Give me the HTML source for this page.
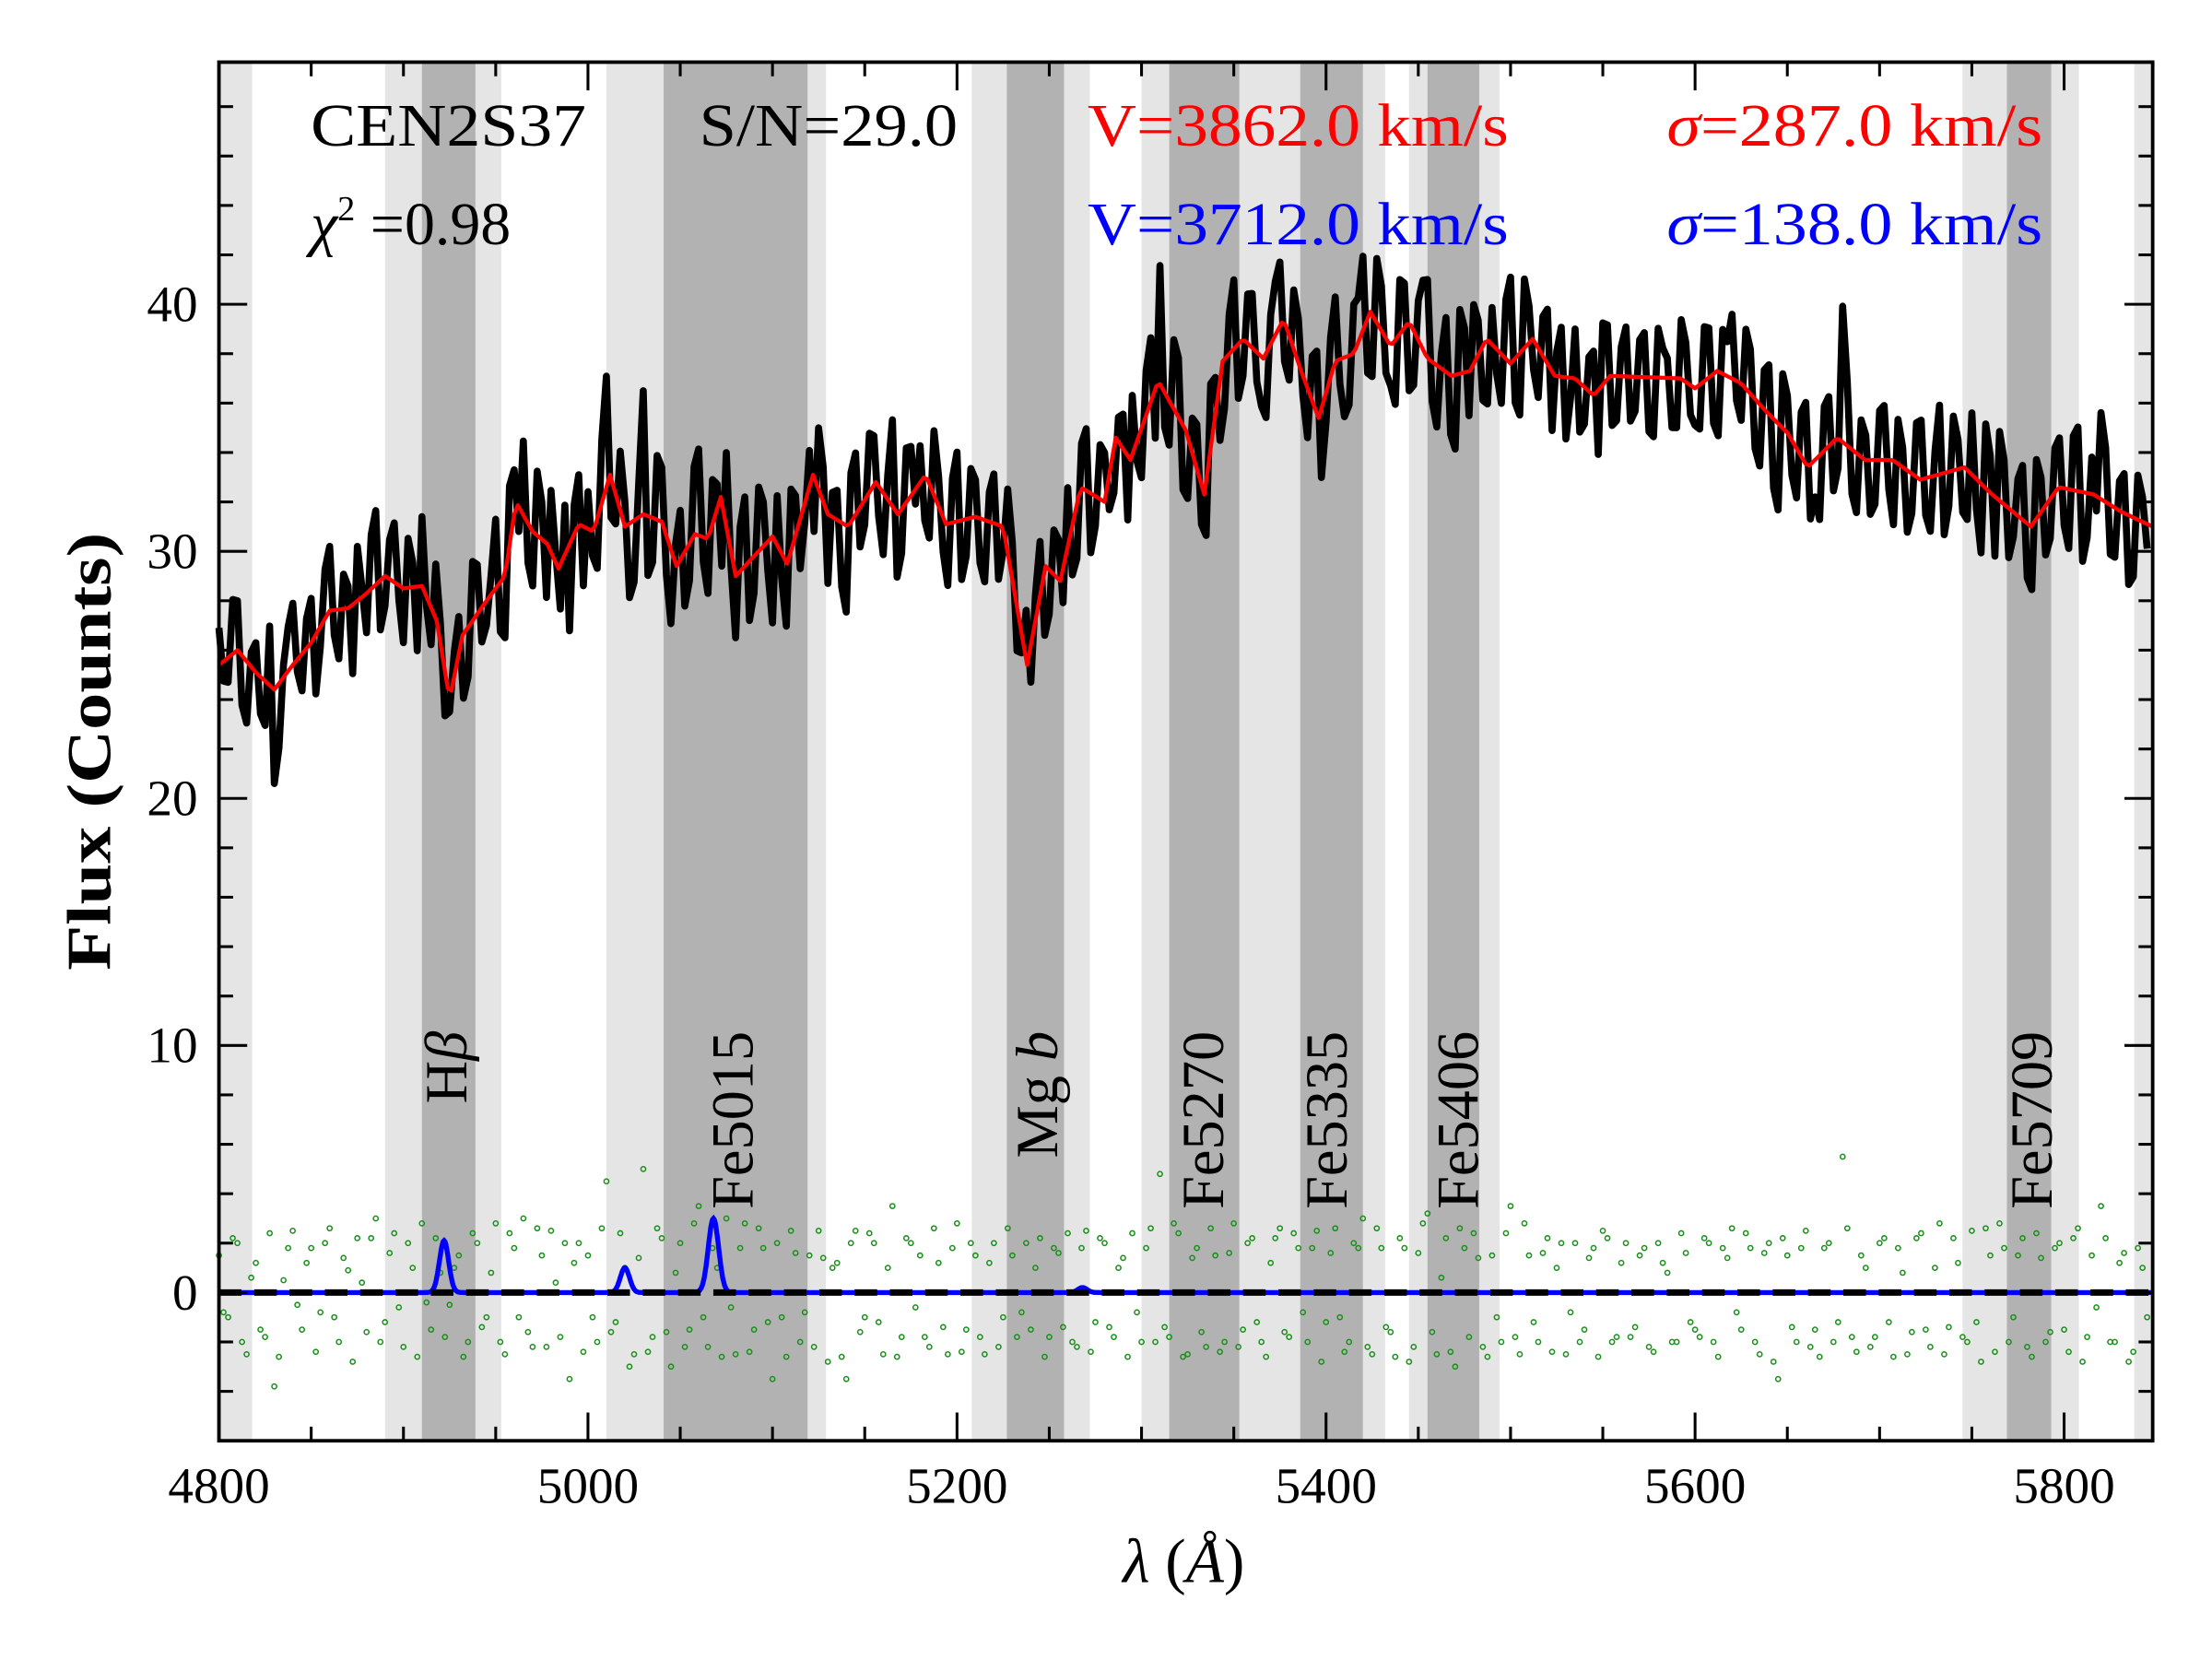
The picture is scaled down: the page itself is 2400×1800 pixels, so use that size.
<!DOCTYPE html>
<html><head><meta charset="utf-8"><style>
html,body{margin:0;padding:0;background:#fff;}
svg{display:block;font-family:"Liberation Serif",serif;}
</style></head><body>
<svg id="chart" width="2400" height="1800" viewBox="0 0 1566 1174.5" xmlns="http://www.w3.org/2000/svg">
<g id="bands"></g>
<g id="marks"></g>
<g id="axes"></g>
<g font-size="43">
<text x="220" y="103" textLength="195" lengthAdjust="spacingAndGlyphs">CEN2S37</text>
<text x="495" y="103" textLength="183" lengthAdjust="spacingAndGlyphs">S/N=29.0</text>
<text x="770" y="103" textLength="298" lengthAdjust="spacingAndGlyphs" fill="#ff0000">V=3862.0 km/s</text>
<text x="1180" y="103" textLength="266" lengthAdjust="spacingAndGlyphs" fill="#ff0000"><tspan font-style="italic">σ</tspan>=287.0 km/s</text>
<text x="220" y="173"><tspan font-style="italic">χ</tspan><tspan dy="-17" font-size="25">2</tspan><tspan dy="17"> =0.98</tspan></text>
<text x="770" y="173" textLength="298" lengthAdjust="spacingAndGlyphs" fill="#0000ff">V=3712.0 km/s</text>
<text x="1180" y="173" textLength="266" lengthAdjust="spacingAndGlyphs" fill="#0000ff"><tspan font-style="italic">σ</tspan>=138.0 km/s</text>
</g>
<text x="78" y="532" font-size="44" font-weight="bold" text-anchor="middle" textLength="310" lengthAdjust="spacingAndGlyphs" transform="rotate(-90 78 532)">Flux (Counts)</text>
<text x="838" y="1120" font-size="44" text-anchor="middle"><tspan font-style="italic">λ</tspan> (<tspan font-style="italic">Å</tspan>)</text>
</svg>
<script>
const xTicks=[4800,5000,5200,5400,5600,5800];
const yTicks=[0,10,20,30,40];
const bandLight=[[4800,4818],[4890,4953],[5010,5129],[5208,5272],[5300,5315],[5353,5386],[5420,5432],[5445,5494],[5745,5808],[5838,5850]];
const bandDark=[[4910,4939],[5041,5119],[5227,5258],[5315,5353],[5386,5420],[5455,5483],[5769,5793]];
const indexNames=["Hβ","Fe5015","Mg b","Fe5270","Fe5335","Fe5406","Fe5709"];
const indexPos=[4925,5080,5245,5335,5402,5473,5784];
const modelWave=[4800,4810,4820,4830,4840,4850,4860,4870,4880,4890,4900,4910,4918,4925,4932,4945,4955,4961,4970,4978,4984,4995,5003,5012,5020,5030,5040,5048,5058,5065,5072,5080,5090,5100,5108,5122,5130,5141,5156,5168,5183,5194,5210,5225,5238,5248,5256,5267,5280,5286,5294,5309,5324,5334,5344,5355,5366,5377,5386,5396,5405,5415,5424,5435,5445,5455,5468,5478,5487,5500,5512,5524,5535,5545,5554,5592,5600,5612,5625,5638,5650,5661,5677,5692,5707,5722,5746,5761,5782,5797,5816,5831,5848];
const modelFlux=[25.4,26.0,25.1,24.4,25.4,26.3,27.6,27.7,28.3,29.0,28.5,28.6,27.2,24.0,26.6,28.0,29.0,32.0,30.8,30.3,29.3,31.1,30.8,33.1,31.0,31.5,31.2,29.4,30.7,30.5,32.2,29.0,29.8,30.6,29.5,33.1,31.5,31.0,32.8,31.5,33.1,31.1,31.4,31.0,25.4,29.4,28.8,32.6,32.0,34.6,33.7,36.9,34.9,32.3,37.7,38.6,37.8,39.4,37.4,35.4,37.7,38.0,39.7,38.3,39.3,37.8,37.1,37.3,38.6,37.6,38.6,37.1,37.0,36.3,37.1,37.0,36.6,37.3,36.8,35.7,34.8,33.4,34.6,33.7,33.7,32.9,33.4,32.3,31.0,32.6,32.3,31.6,31.0];
const residStart=4800, residStep=5;
const residuals=[1.5,-1.0,2.0,-2.5,1.2,-1.8,-3.8,0.5,2.5,-1.5,1.8,-0.8,2.6,-2.0,0.9,2.2,-1.6,3.0,-1.2,2.4,-2.2,1.0,2.8,-1.5,0.8,-0.5,1.5,-2.0,2.0,-1.0,2.8,-2.5,1.8,3.0,-2.2,1.5,2.5,-1.8,-3.5,2.0,1.5,-2.0,4.5,-1.2,1.0,-2.5,5.0,-1.8,2.2,-3.0,2.0,-1.5,3.5,-2.2,1.0,3.0,-2.5,2.8,-1.5,1.8,-3.5,-1.0,2.5,-2.0,1.5,2.5,-2.8,1.2,-3.5,2.5,-1.0,2.0,-2.5,3.5,-1.8,2.0,1.5,-2.2,1.2,-2.5,2.8,-1.5,1.5,-2.5,2.0,-1.0,1.5,-0.8,-1.5,2.2,-1.8,1.6,2.4,-2.2,2.5,-1.2,2.0,-1.8,1.4,2.4,-2.0,2.6,4.8,-1.8,2.4,-2.5,1.8,-2.2,1.5,-2.0,2.8,-1.5,2.2,-2.0,1.2,2.6,-1.8,1.8,-2.0,2.5,-1.2,2.6,-2.4,2.0,3.0,-2.5,1.8,-1.6,2.2,-2.8,1.6,3.2,-2.5,2.2,-3.0,1.8,2.4,-2.2,1.5,-2.0,3.5,-2.5,1.5,-2.0,2.2,1.0,-2.5,2.0,-1.5,1.8,2.5,-2.0,1.2,-1.8,1.5,-2.2,2.0,0.8,-2.0,1.6,-1.5,2.2,-2.0,1.8,2.6,-1.5,1.8,-2.5,2.0,-3.5,1.5,-2.0,2.5,-1.5,1.8,-2.0,5.5,-1.8,1.5,-2.2,2.0,-1.2,1.8,-2.5,2.2,-1.5,1.0,-2.5,2.2,-1.8,2.5,-2.8,1.5,2.8,-2.0,1.5,-2.2,2.4,-2.0,1.8,-1.5,2.2,-2.8,1.5,3.5,-2.0,1.2,-2.8,1.8,-1.0];
const residualsMid=[-0.8,2.2,-2.0,0.6,-1.5,2.4,-2.6,1.8,-0.5,1.2,-2.4,2.0,-1.0,1.4,-2.8,0.4,2.2,-2.0,1.6,-0.6,2.0,-2.6,-0.4,2.2,-1.8,1.0,-2.6,2.4,-1.4,0.8,-2.0,2.4,-1.0,-1.6,2.6,-2.2,0.4,2.0,1.2,-2.4,-1.0,2.6,-1.6,2.4,-3.0,1.4,-2.4,2.6,-1.6,0.8,-2.2,2.8,-1.0,1.8,-2.6,-0.6,1.8,-2.4,2.6,-1.2,2.0,-2.6,1.6,-0.8,-2.2,1.4,1.0,-2.6,2.0,-1.6,2.4,-1.2,1.0,-2.6,2.2,-0.6,-1.8,2.6,-1.4,1.8,-2.4,2.0,-1.8,1.2,-2.2,2.6,-1.8,2.0,1.0,-2.6,1.8,-1.4,-2.0,1.8,-2.4,2.2,-1.4,1.0,-2.6,-0.8,1.8,-2.0,-1.4,2.8,-2.6,1.4,-1.6,2.6,-2.4,1.6,-2.2,2.0,-1.2,-2.6,2.2,-1.6,2.4,-0.8,1.8,-2.8,1.6,-1.0,-2.0,1.8,-2.2,2.6,-1.4,-2.6,1.8,-2.2,2.8,-1.6,0.6,-2.4,2.6,-1.8,1.4,-2.6,-1.0,2.4,-1.8,2.8,-1.2,1.6,-2.4,2.0,-0.8,-2.0,1.4,-2.6,2.2,-1.8,2.0,-1.4,1.8,-2.4,1.2,-2.0,2.4,-1.2,-1.8,2.0,-2.6,1.4,-0.8,2.4,-2.0,1.6,-2.8,2.2,-1.4,1.8,-2.2,-2.6,2.0,-1.2,2.6,-2.4,1.0,-1.8,2.2,-2.6,0.8,-1.6,2.4,-2.2,2.8,-1.4,1.2,-2.0,-1.2,2.6,-2.4,1.8,-1.0,2.2,-2.6,1.4,-1.6,2.0,-2.4,2.6,-1.8,-0.6,2.2,-2.0,1.6,-2.4,1.0];
const emisCenter=[4922,5020,5068,5268];
const emisAmp=[2.1,1.0,3.0,0.2];
const emisSigma=[2.5,2.5,2.8,2.5];

const NS="http://www.w3.org/2000/svg";
const L=155,R=1524,T=44,B=1020,X0=4800,X1=5848,Y0=-6,Y1=49.8;
const sx=v=>L+(v-X0)/(X1-X0)*(R-L);
const sy=v=>B-(v-Y0)/(Y1-Y0)*(B-T);
function mk(tag,attrs,parent){const e=document.createElementNS(NS,tag);for(const k in attrs)e.setAttribute(k,attrs[k]);parent.appendChild(e);return e;}
function model(w){for(let i=0;i<modelWave.length-1;i++){if(w<=modelWave[i+1]){const t=(w-modelWave[i])/(modelWave[i+1]-modelWave[i]);return modelFlux[i]+t*(modelFlux[i+1]-modelFlux[i]);}}return modelFlux[modelFlux.length-1];}
const bands=document.getElementById('bands'),marks=document.getElementById('marks'),axes=document.getElementById('axes');
bandLight.forEach(b=>{const r=mk('rect',{x:sx(b[0]),y:T,width:Math.min(sx(b[1]),R)-sx(b[0]),height:B-T,fill:'#e5e5e5'},bands);

});
bandDark.forEach(b=>{const r=mk('rect',{x:sx(b[0]),y:T,width:sx(b[1])-sx(b[0]),height:B-T,fill:'#b2b2b2'},bands);

});
indexNames.forEach((n,i)=>{const x=sx(indexPos[i])+12;const t=mk('text',{x:x,y:730,'font-size':42,'text-anchor':'end',transform:`rotate(-90 ${x} 730)`},marks);
if(n==="Hβ"){t.innerHTML='H<tspan font-style="italic">β</tspan>';}else if(n==="Mg b"){t.innerHTML='Mg <tspan font-style="italic">b</tspan>';}else t.textContent=n;

});
const pts=[];
residuals.forEach((r,i)=>{pts.push([residStart+i*residStep,r]);
 if(i<residualsMid.length)pts.push([residStart+2.5+i*residStep,residualsMid[i]]);});
pts.forEach(p=>{const c=mk('circle',{cx:sx(p[0]),cy:sy(p[1]),r:1.7,fill:'none',stroke:'#1a8f1a','stroke-width':1},marks);

});
let bp=[];for(let w=X0;w<=X1;w+=0.5){let v=0;emisCenter.forEach((c,j)=>{v+=emisAmp[j]*Math.exp(-0.5*((w-c)/emisSigma[j])**2);});bp.push(sx(w).toFixed(1)+','+sy(v).toFixed(1));}
const bl=mk('polyline',{points:bp.join(' '),fill:'none',stroke:'#0000ff','stroke-width':3.5},marks);


const zl=mk('line',{x1:L,x2:R,y1:sy(0),y2:sy(0),stroke:'#000','stroke-width':4.5,'stroke-dasharray':'16 9'},marks);


const sp=pts.map(p=>sx(p[0]).toFixed(1)+','+sy(model(p[0])+p[1]).toFixed(1));
const sl=mk('polyline',{points:sp.join(' '),fill:'none',stroke:'#000','stroke-width':5,'stroke-linejoin':'round'},marks);


let mp=[];for(let w=X0;w<=X1;w+=2)mp.push(sx(w).toFixed(1)+','+sy(model(w)).toFixed(1));
const ml=mk('polyline',{points:mp.join(' '),fill:'none',stroke:'#ff0000','stroke-width':2.8,'stroke-linejoin':'round'},marks);


const fr=mk('rect',{x:L,y:T,width:R-L,height:B-T,fill:'none',stroke:'#000','stroke-width':2.5},axes);


for(let w=4800;w<=X1;w+=50){const major=(w%200===0);const len=major?20:10;const x=sx(w);
mk('line',{x1:x,x2:x,y1:B,y2:B-len,stroke:'#000','stroke-width':2},axes);
mk('line',{x1:x,x2:x,y1:T,y2:T+len,stroke:'#000','stroke-width':2},axes);}
for(let v=-4;v<=48;v+=2){const major=(v%10===0);const len=major?20:10;const y=sy(v);
mk('line',{x1:L,x2:L+len,y1:y,y2:y,stroke:'#000','stroke-width':2},axes);
mk('line',{x1:R,x2:R-len,y1:y,y2:y,stroke:'#000','stroke-width':2},axes);}
xTicks.forEach(w=>{const t=mk('text',{x:sx(w),y:1064,'font-size':36,'text-anchor':'middle'},axes);t.textContent=w;

});
yTicks.forEach(v=>{const t=mk('text',{x:140,y:sy(v)+12,'font-size':36,'text-anchor':'end'},axes);t.textContent=v;

});
</script>
</body></html>
